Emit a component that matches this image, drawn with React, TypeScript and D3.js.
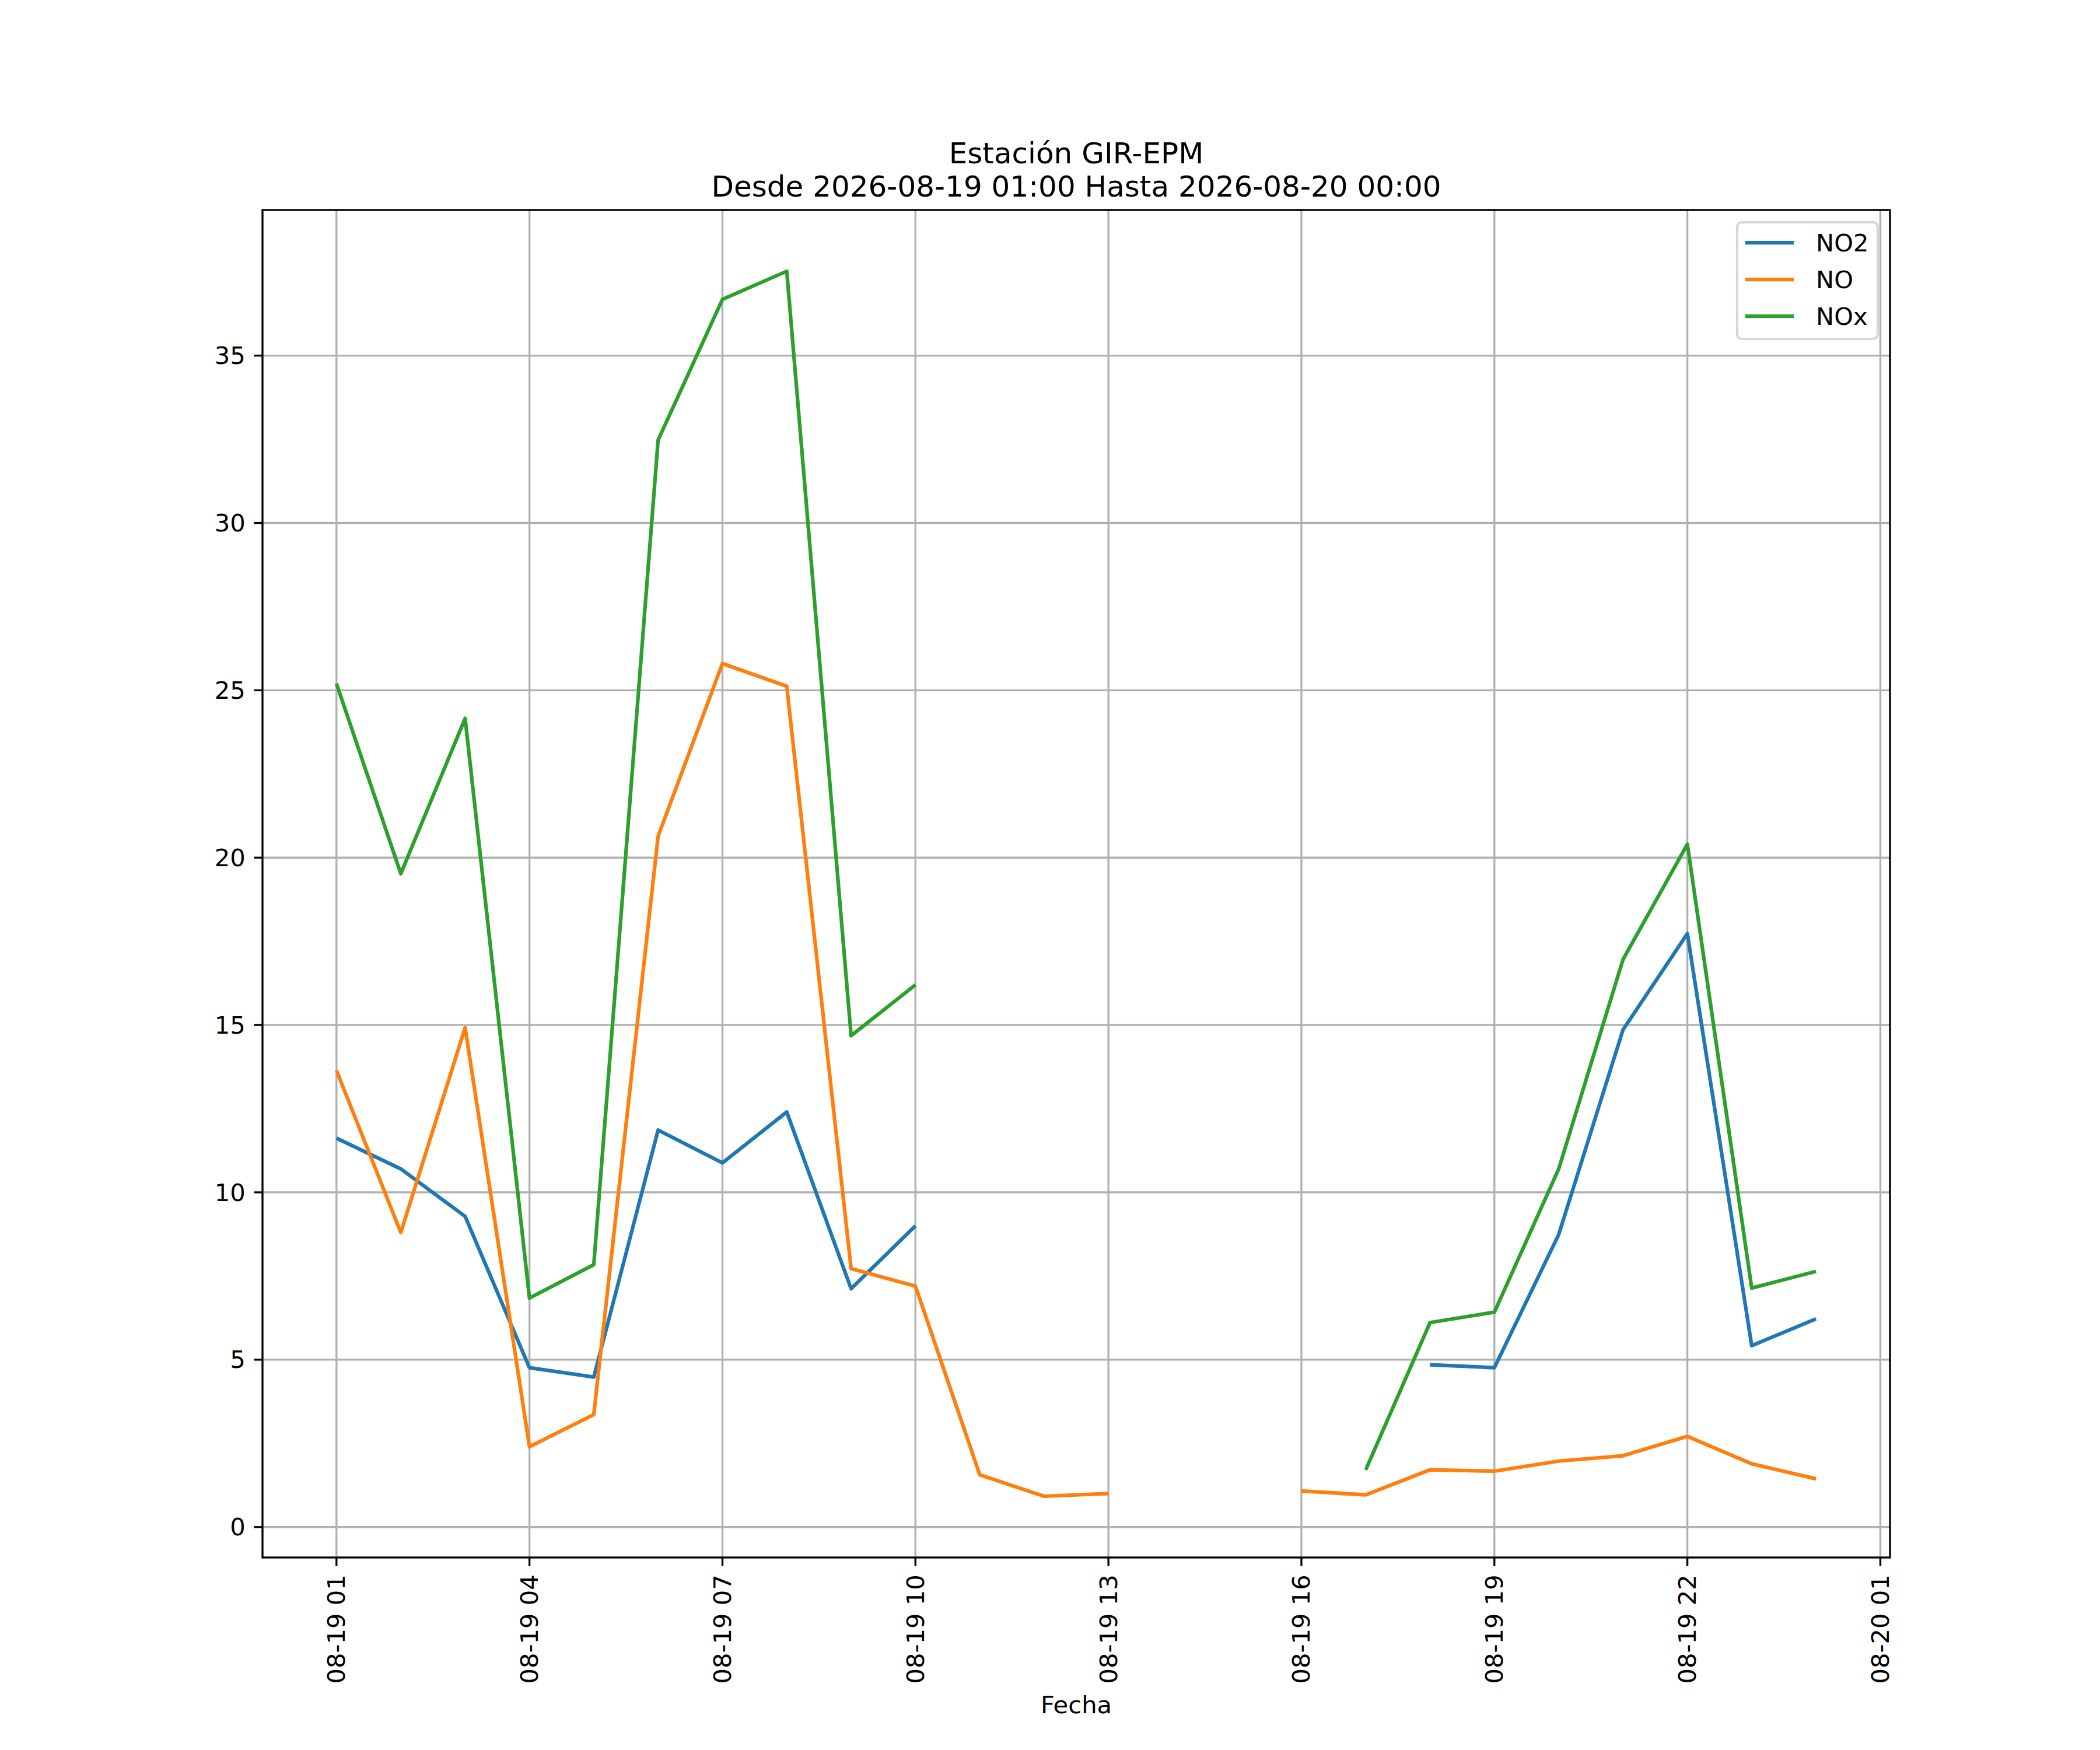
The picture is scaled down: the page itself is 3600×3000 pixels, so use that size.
import { useEffect } from "react";
import * as d3 from "d3";

// hourly timestamps (UTC), 2026-08-19 01:00 .. 2026-08-20 00:00
const times = [
  "2026-08-19T01:00", "2026-08-19T02:00", "2026-08-19T03:00", "2026-08-19T04:00",
  "2026-08-19T05:00", "2026-08-19T06:00", "2026-08-19T07:00", "2026-08-19T08:00",
  "2026-08-19T09:00", "2026-08-19T10:00", "2026-08-19T11:00", "2026-08-19T12:00",
  "2026-08-19T13:00", "2026-08-19T14:00", "2026-08-19T15:00", "2026-08-19T16:00",
  "2026-08-19T17:00", "2026-08-19T18:00", "2026-08-19T19:00", "2026-08-19T20:00",
  "2026-08-19T21:00", "2026-08-19T22:00", "2026-08-19T23:00", "2026-08-20T00:00",
];

const no2 = [
  11.62, 10.7, 9.28, 4.76, 4.48, 11.86, 10.88, 12.4, 7.12, 9.0,
  null, null, null, null, null, null, null,
  4.85, 4.76, 8.74, 14.86, 17.73, 5.42, 6.22,
];
const no = [
  13.64, 8.8, 14.92, 2.4, 3.36, 20.64, 25.8, 25.12, 7.72, 7.2,
  1.56, 0.92, 1.0, null, null, 1.08, 0.96,
  1.71, 1.67, 1.97, 2.13, 2.71, 1.89, 1.44,
];
const nox = [
  25.2, 19.52, 24.16, 6.84, 7.84, 32.48, 36.68, 37.52, 14.68, 16.2,
  null, null, null, null, null, null, 1.71,
  6.11, 6.42, 10.7, 16.96, 20.4, 7.14, 7.64,
];

const seriesNames = ["NO2", "NO", "NOx"];
const seriesColors = ["#1f77b4", "#ff7f0e", "#2ca02c"];
const seriesValues = [no2, no, nox];
const yTickValues = [0, 5, 10, 15, 20, 25, 30, 35];

const titleLines = ["Estación GIR-EPM", "Desde 2026-08-19 01:00 Hasta 2026-08-20 00:00"];
const xLabel = "Fecha";

const W = 3600, H = 3000;
const PT = 300 / 72; // px per point at 300 dpi
const ax = { left: 450, right: 3240, top: 360, bottom: 2670 };
const FONT = "DejaVu Sans";

export default function App() {
  useEffect(() => { document.body.style.margin = "0"; }, []);

  const parseT = d3.utcParse("%Y-%m-%dT%H:%M");
  const dates = times.map((t) => parseT(t)!);
  const t0 = dates[0].getTime(), t1 = dates[dates.length - 1].getTime();
  const xPad = (t1 - t0) * 0.05;
  const x = d3.scaleUtc().domain([new Date(t0 - xPad), new Date(t1 + xPad)]).range([ax.left, ax.right]);

  const all = seriesValues.flat().filter((v): v is number => v != null);
  const lo = d3.min(all)!, hi = d3.max(all)!;
  const yPad = (hi - lo) * 0.05;
  const y = d3.scaleLinear().domain([lo - yPad, hi + yPad]).range([ax.bottom, ax.top]);

  const xTicks = d3.utcHour.range(dates[0], new Date(t1 + 2 * 3600000), 3);
  const xFmt = d3.utcFormat("%m-%d %H");

  const line = d3.line<number | null>()
    .defined((v) => v != null)
    .x((_, i) => x(dates[i]))
    .y((v) => y(v as number));

  const tickLen = 3.5 * PT, tickPad = 3.5 * PT;
  const fs = 10 * PT;
  const grid = "#b0b0b0";

  // legend geometry
  const lg = { x: 2978, y: 381, w: 241, h: 200 };
  const rowY = [416, 479, 542];

  return (
    <div style={{ position: "absolute", left: 0, top: 0 }}>
      <svg width={W} height={H} style={{ display: "block", background: "#fff" }} fontFamily={FONT}>
        <rect x={0} y={0} width={W} height={H} fill="#fff" />
        {/* grid */}
        {xTicks.map((t, i) => (
          <line key={`gx${i}`} x1={x(t)} x2={x(t)} y1={ax.top} y2={ax.bottom} stroke={grid} strokeWidth={0.8 * PT} />
        ))}
        {yTickValues.map((v) => (
          <line key={`gy${v}`} x1={ax.left} x2={ax.right} y1={y(v)} y2={y(v)} stroke={grid} strokeWidth={0.8 * PT} />
        ))}
        {/* series */}
        {seriesValues.map((vals, i) => (
          <path key={seriesNames[i]} d={line(vals) ?? ""} fill="none" stroke={seriesColors[i]}
            strokeWidth={1.5 * PT} strokeLinejoin="round" strokeLinecap="butt" />
        ))}
        {/* spines */}
        <rect x={ax.left} y={ax.top} width={ax.right - ax.left} height={ax.bottom - ax.top}
          fill="none" stroke="#000" strokeWidth={0.8 * PT} strokeLinecap="square" />
        {/* x ticks */}
        {xTicks.map((t, i) => (
          <g key={`xt${i}`}>
            <line x1={x(t)} x2={x(t)} y1={ax.bottom} y2={ax.bottom + tickLen} stroke="#000" strokeWidth={0.8 * PT} />
            <text transform={`translate(${x(t)},${ax.bottom + tickLen + tickPad}) rotate(-90)`}
              textAnchor="end" dominantBaseline="central" fontSize={fs} fill="#000">
              {xFmt(t)}
            </text>
          </g>
        ))}
        {/* y ticks */}
        {yTickValues.map((v) => (
          <g key={`yt${v}`}>
            <line x1={ax.left - tickLen} x2={ax.left} y1={y(v)} y2={y(v)} stroke="#000" strokeWidth={0.8 * PT} />
            <text x={ax.left - tickLen - tickPad} y={y(v)} textAnchor="end" dominantBaseline="central" fontSize={fs} fill="#000">
              {v}
            </text>
          </g>
        ))}
        {/* title */}
        {titleLines.map((s, i) => (
          <text key={s} x={(ax.left + ax.right) / 2} y={280 + i * 57} textAnchor="middle" fontSize={12 * PT} fill="#000">
            {s}
          </text>
        ))}
        {/* x label */}
        <text x={(ax.left + ax.right) / 2} y={2937} textAnchor="middle" fontSize={fs} fill="#000">{xLabel}</text>
        {/* legend */}
        <rect x={lg.x} y={lg.y} width={lg.w} height={lg.h} rx={8} ry={8}
          fill="#fff" fillOpacity={0.8} stroke="#cccccc" strokeOpacity={0.8} strokeWidth={1 * PT} />
        {seriesNames.map((n, i) => (
          <g key={`lg${n}`}>
            <line x1={2992} x2={3075} y1={rowY[i]} y2={rowY[i]} stroke={seriesColors[i]} strokeWidth={1.5 * PT} />
            <text x={3113} y={rowY[i]} dominantBaseline="central" fontSize={fs} fill="#000">{n}</text>
          </g>
        ))}
      </svg>
    </div>
  );
}
